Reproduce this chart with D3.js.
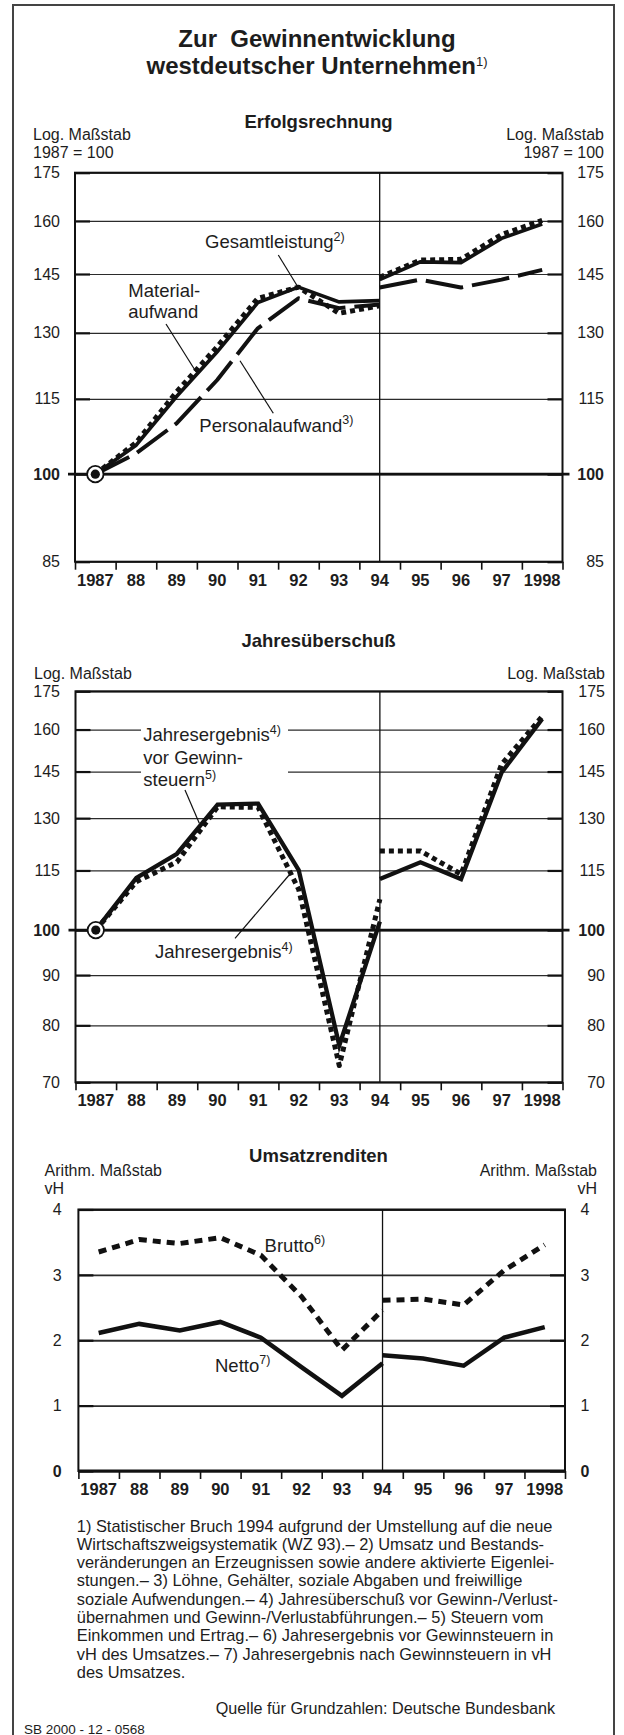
<!DOCTYPE html>
<html>
<head>
<meta charset="utf-8">
<script src="https://cdn.jsdelivr.net/npm/d3@7"></script>
<style>
  body { margin: 0; background: #fff; }
  svg text { font-family: "Liberation Sans", Arial, sans-serif; fill: #1d1d1d; white-space: pre; }
</style>
</head>
<body>
<script>
// Jahre: Bänder, Werte in Bandmitte; 1994 doppelt (alte / neue Systematik)
var years = ["1987", "88", "89", "90", "91", "92", "93", "94", "95", "96", "97", "1998"];
var yearsAlt = years.slice(0, 8),
    yearsNeu = years.slice(7);

// Erfolgsrechnung, 1987 = 100
var gesamtAlt   = [100, 105.5, 115.5, 125.5, 137.5, 141.5, 137.7, 138],
    gesamtNeu   = [143.5, 148.3, 148.1, 154.9, 159.1],
    materialAlt = [100, 106, 116.5, 126.7, 138.6, 141.5, 134.8, 136.7],
    materialNeu = [144.1, 148.8, 149, 156, 160.2],
    personalAlt = [100, 103.9, 109.9, 119.1, 131.1, 138.6, 136.1, 137],
    personalNeu = [141.4, 143.5, 141.4, 143.5, 146.1];
var ticks1 = [85, 100, 115, 130, 145, 160, 175];

// Jahresüberschuß, 1987 = 100
var vorSteuernAlt = [100, 113, 119.6, 134.2, 134.5, 115.1, 76.3, 102],
    vorSteuernNeu = [112.7, 117.2, 112.7, 144.7, 164],
    ergebnisAlt   = [100, 112, 117.3, 133.5, 133.3, 110, 72.8, 107.5],
    ergebnisNeu   = [120.4, 120.4, 114, 147.5, 165];
var ticks2 = [70, 80, 90, 100, 115, 130, 145, 160, 175];

// Umsatzrenditen, vH
var bruttoAlt = [3.35, 3.54, 3.48, 3.57, 3.30, 2.67, 1.85, 2.46],
    bruttoNeu = [2.61, 2.63, 2.54, 3.07, 3.46],
    nettoAlt  = [2.11, 2.25, 2.15, 2.28, 2.04, 1.59, 1.15, 1.65],
    nettoNeu  = [1.77, 1.72, 1.61, 2.04, 2.20];
var ticks3 = [0, 1, 2, 3, 4];

var footnotes = [
  "1) Statistischer Bruch 1994 aufgrund der Umstellung auf die neue",
  "Wirtschaftszweigsystematik (WZ 93).– 2) Umsatz und Bestands-",
  "veränderungen an Erzeugnissen sowie andere aktivierte Eigenlei-",
  "stungen.– 3) Löhne, Gehälter, soziale Abgaben und freiwillige",
  "soziale Aufwendungen.– 4) Jahresüberschuß vor Gewinn-/Verlust-",
  "übernahmen und Gewinn-/Verlustabführungen.– 5) Steuern vom",
  "Einkommen und Ertrag.– 6) Jahresergebnis vor Gewinnsteuern in",
  "vH des Umsatzes.– 7) Jahresergebnis nach Gewinnsteuern in vH",
  "des Umsatzes."
];

var ink = "#111";

var svg = d3.select("body").append("svg")
    .attr("width", 624)
    .attr("height", 1735);

// Rahmen (unten abgeschnitten)
svg.append("rect")
   .attr("x", 13).attr("y", 5)
   .attr("width", 601).attr("height", 1780)
   .attr("fill", "none")
   .attr("stroke", "#444")
   .attr("stroke-width", 2);

function addText(x, y, str, size, opts) {
  opts = opts || {};
  var t = svg.append("text")
             .attr("x", x).attr("y", y)
             .attr("font-size", size)
             .attr("text-anchor", opts.anchor || "start");
  t.append("tspan")
   .attr("font-weight", opts.bold ? "bold" : null)
   .text(str);
  if (opts.sup) {
    t.append("tspan")
     .attr("dy", -(opts.raise || size * 0.38))
     .attr("font-size", opts.supSize || 12.5)
     .text(opts.sup);
  }
  return t;
}

function leader(x1, y1, x2, y2) {
  svg.append("line")
     .attr("x1", x1).attr("y1", y1).attr("x2", x2).attr("y2", y2)
     .attr("stroke", ink).attr("stroke-width", 1.2);
}

function cleanAxis(s) {
  s.attr("font-family", null).attr("font-size", null);
  s.select(".domain").remove();
}

function panel(o) {
  var x = d3.scaleBand().domain(years).range([o.left, o.right]);
  var cx = d => x(d) + x.bandwidth() / 2;
  var w = o.right - o.left;
  var g = svg.append("g");

  // Gitterlinien
  g.append("g")
   .attr("transform", "translate(" + o.left + ",0)")
   .call(d3.axisLeft(o.y).tickValues(o.ticks).tickSize(-w).tickFormat(""))
   .call(cleanAxis)
   .selectAll("line")
   .attr("stroke", "#2b2b2b")
   .attr("stroke-width", o.gridW);

  // kurze, kräftigere Striche innen an beiden Rändern
  g.append("g")
   .attr("transform", "translate(" + o.left + ",0)")
   .call(d3.axisLeft(o.y).tickValues(o.ticks).tickSize(-15).tickFormat(""))
   .call(cleanAxis)
   .selectAll("line").attr("stroke", ink).attr("stroke-width", 2.2);
  g.append("g")
   .attr("transform", "translate(" + o.right + ",0)")
   .call(d3.axisRight(o.y).tickValues(o.ticks).tickSize(-15).tickFormat(""))
   .call(cleanAxis)
   .selectAll("line").attr("stroke", ink).attr("stroke-width", 2.2);

  // Beschriftung links / rechts
  var left = g.append("g")
   .attr("transform", "translate(" + o.left + ",0)")
   .call(d3.axisLeft(o.y).tickValues(o.ticks).tickSize(0)
           .tickPadding(o.left - o.labL).tickFormat(d3.format("d")))
   .call(cleanAxis);
  var right = g.append("g")
   .attr("transform", "translate(" + o.right + ",0)")
   .call(d3.axisRight(o.y).tickValues(o.ticks).tickSize(0).tickFormat(d3.format("d")))
   .call(cleanAxis);
  right.selectAll("text")
       .attr("x", o.labR - o.right)
       .attr("text-anchor", "end");
  [left, right].forEach(a => {
    a.selectAll("text")
     .attr("font-size", 16)
     .attr("font-weight", d => d === o.bold ? "bold" : null);
  });

  // Bruch 1994
  g.append("line")
   .attr("x1", cx("94")).attr("x2", cx("94"))
   .attr("y1", o.top).attr("y2", o.bottom)
   .attr("stroke", ink).attr("stroke-width", 1.3);

  // Basislinie 100
  if (o.base) {
    g.append("line")
     .attr("x1", o.left - 7).attr("x2", o.right + 7)
     .attr("y1", o.y(o.base)).attr("y2", o.y(o.base))
     .attr("stroke", ink).attr("stroke-width", 2.6);
  }

  // x-Achse: Striche an den Bandgrenzen, Jahre in der Bandmitte
  var xb = d3.scaleLinear().domain([0, years.length]).range([o.left, o.right]);
  g.append("g")
   .attr("transform", "translate(0," + o.bottom + ")")
   .call(d3.axisBottom(xb).tickValues(d3.range(years.length + 1)).tickSize(8).tickFormat(""))
   .call(cleanAxis)
   .selectAll("line").attr("stroke", ink).attr("stroke-width", 1.6);
  g.append("g")
   .attr("transform", "translate(0," + o.bottom + ")")
   .call(d3.axisBottom(x).tickSize(0))
   .call(cleanAxis)
   .selectAll("text")
   .attr("y", 24).attr("dy", null)
   .attr("font-size", 16.5)
   .attr("font-weight", "bold");

  g.append("rect")
   .attr("x", o.left).attr("y", o.top)
   .attr("width", w).attr("height", o.bottom - o.top)
   .attr("fill", "none")
   .attr("stroke", ink)
   .attr("stroke-width", 2);
  if (o.bottomW) {
    g.append("line")
     .attr("x1", o.left).attr("x2", o.right)
     .attr("y1", o.bottom).attr("y2", o.bottom)
     .attr("stroke", ink).attr("stroke-width", o.bottomW);
  }

  return {g: g, cx: cx, y: o.y};
}

function drawSeries(p, alt, neu, width, dash) {
  var line = d3.line()
      .x(d => p.cx(d.year))
      .y(d => p.y(d.v));
  [yearsAlt.map((yr, i) => ({year: yr, v: alt[i]})),
   yearsNeu.map((yr, i) => ({year: yr, v: neu[i]}))].forEach(pts => {
    p.g.append("path")
       .attr("d", line(pts))
       .attr("fill", "none")
       .attr("stroke", ink)
       .attr("stroke-width", width)
       .attr("stroke-dasharray", dash)
       .attr("stroke-linejoin", dash ? "round" : "miter");
  });
}

function marker(p, v) {
  p.g.append("circle")
     .attr("cx", p.cx("1987")).attr("cy", p.y(v)).attr("r", 8.2)
     .attr("fill", "#fff").attr("stroke", ink).attr("stroke-width", 1.8);
  p.g.append("circle")
     .attr("cx", p.cx("1987")).attr("cy", p.y(v)).attr("r", 4.6)
     .attr("fill", ink);
}

// ---------------- Titel ----------------
addText(317, 46.5, "Zur  Gewinnentwicklung", 24, {bold: true, anchor: "middle"});
addText(317, 74, "westdeutscher Unternehmen", 24, {bold: true, anchor: "middle", sup: "1)", raise: 8, supSize: 13});

// ---------------- Erfolgsrechnung ----------------
addText(318.5, 127.5, "Erfolgsrechnung", 18.5, {bold: true, anchor: "middle"});
addText(33, 140, "Log. Maßstab", 16);
addText(33, 158, "1987 = 100", 16);
addText(604, 140, "Log. Maßstab", 16, {anchor: "end"});
addText(604, 158, "1987 = 100", 16, {anchor: "end"});

var p1 = panel({
  top: 172.7, bottom: 561.7, left: 75, right: 562.5,
  y: d3.scaleLog().domain([85, 175]).range([561.7, 172.7]),
  ticks: ticks1, bold: 100, base: 100, gridW: 1.2,
  labL: 60, labR: 604
});
drawSeries(p1, personalAlt, personalNeu, 4, "38,9");
drawSeries(p1, materialAlt, materialNeu, 5, "5,4");
drawSeries(p1, gesamtAlt, gesamtNeu, 3.6, null);
marker(p1, 100);

addText(205, 248.3, "Gesamtleistung", 18.5, {sup: "2)"});
leader(278.3, 255, 297.3, 286);
addText(128.3, 296.5, "Material-", 18.5);
addText(128.3, 318, "aufwand", 18.5);
leader(166, 324, 196, 371.7);
addText(199.3, 431.5, "Personalaufwand", 18.5, {sup: "3)"});
leader(240, 360.7, 273.3, 413.3);

// ---------------- Jahresüberschuß ----------------
addText(318.5, 647, "Jahresüberschuß", 18.5, {bold: true, anchor: "middle"});
addText(34, 678.5, "Log. Maßstab", 16);
addText(605, 678.5, "Log. Maßstab", 16, {anchor: "end"});

var p2 = panel({
  top: 691.3, bottom: 1082.3, left: 75.5, right: 562.5,
  y: d3.scaleLog().domain([70, 175]).range([1082.3, 691.3]),
  ticks: ticks2, bold: 100, base: 100, gridW: 1.2,
  labL: 60, labR: 605
});
drawSeries(p2, ergebnisAlt, ergebnisNeu, 5, "5,4");
drawSeries(p2, vorSteuernAlt, vorSteuernNeu, 4.3, null);
marker(p2, 100);

svg.append("rect")
   .attr("x", 141).attr("y", 723)
   .attr("width", 147).attr("height", 68)
   .attr("fill", "#fff");
addText(143.3, 741, "Jahresergebnis", 18.5, {sup: "4)"});
addText(143.3, 763.5, "vor Gewinn-", 18.5);
addText(143.3, 786, "steuern", 18.5, {sup: "5)"});
leader(185, 790, 199.3, 823.3);
addText(155, 958.3, "Jahresergebnis", 18.5, {sup: "4)"});
leader(235, 938.3, 290, 874);

// ---------------- Umsatzrenditen ----------------
addText(318.5, 1162, "Umsatzrenditen", 18.5, {bold: true, anchor: "middle"});
addText(44.6, 1176, "Arithm. Maßstab", 16);
addText(44.6, 1194, "vH", 16);
addText(597, 1176, "Arithm. Maßstab", 16, {anchor: "end"});
addText(597, 1194, "vH", 16, {anchor: "end"});

var p3 = panel({
  top: 1209.5, bottom: 1471, left: 78.4, right: 565,
  y: d3.scaleLinear().domain([0, 4]).range([1471, 1209.5]),
  ticks: ticks3, bold: 0, base: null, gridW: 1.8, bottomW: 3,
  labL: 61.7, labR: 589.5
});
drawSeries(p3, bruttoAlt, bruttoNeu, 5, "8,6");
drawSeries(p3, nettoAlt, nettoNeu, 4.5, null);

addText(264.6, 1251.5, "Brutto", 18.5, {sup: "6)"});
addText(215, 1371.5, "Netto", 18.5, {sup: "7)"});

// ---------------- Fußnoten ----------------
footnotes.forEach((s, i) => addText(76.8, 1531.5 + i * 18.3, s, 16.4));
addText(555, 1714, "Quelle für Grundzahlen: Deutsche Bundesbank", 16.2, {anchor: "end"});
addText(24, 1733.5, "SB 2000 - 12 - 0568", 13.5);
</script>
</body>
</html>
